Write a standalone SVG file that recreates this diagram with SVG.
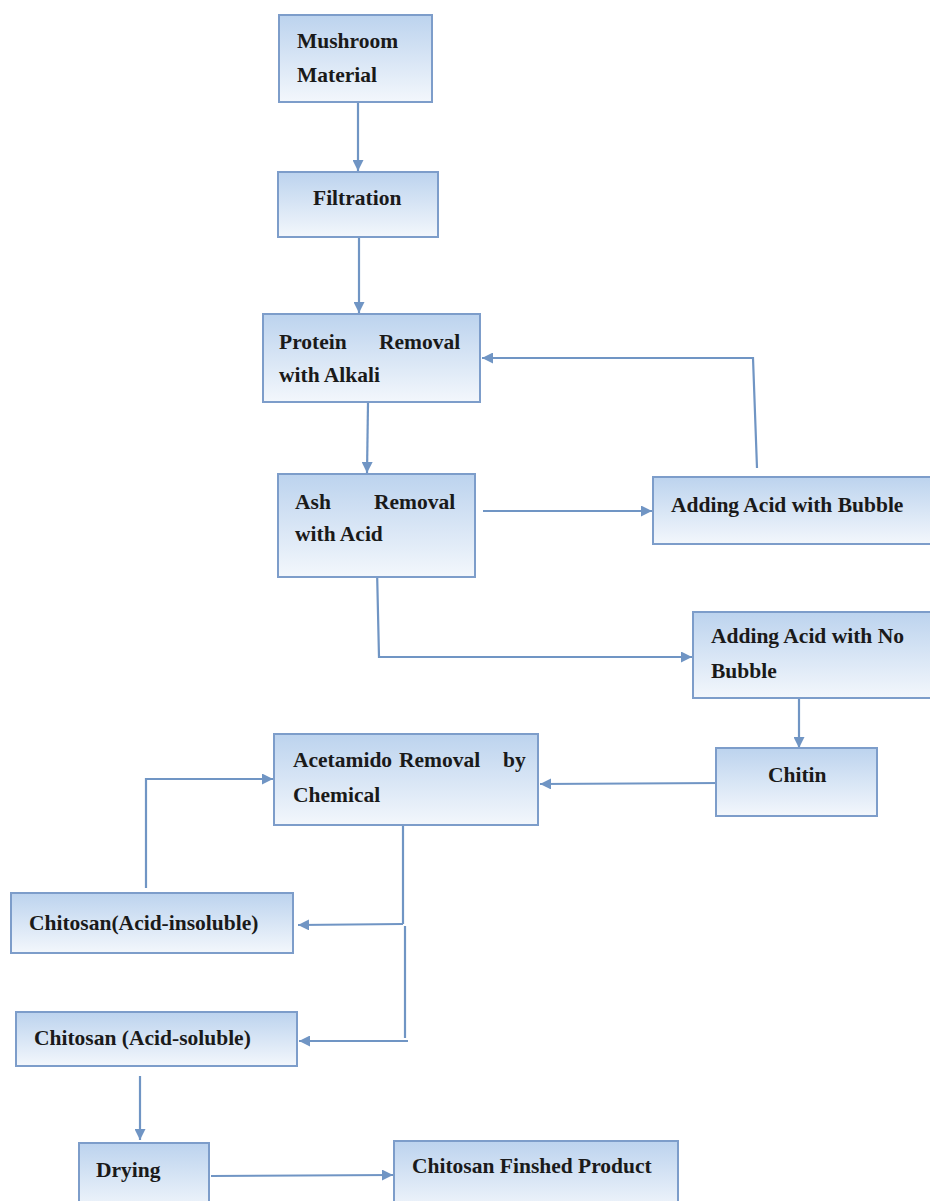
<svg xmlns="http://www.w3.org/2000/svg" width="930" height="1201" viewBox="0 0 930 1201">
<style>
.box{fill:url(#g);stroke:#7d9dca;stroke-width:2}
.t{font-family:"Liberation Serif","Times New Roman",serif;font-weight:bold;font-size:21.5px;fill:#1a1a1a}
.c{fill:none;stroke:#7095c4;stroke-width:2.2}
.a{marker-end:url(#ar)}
</style>
<defs>
<linearGradient id="g" x1="0" y1="0" x2="0" y2="1">
<stop offset="0" stop-color="#bcd3ee"/>
<stop offset="1" stop-color="#f3f7fc"/>
</linearGradient>
<marker id="ar" viewBox="0 0 10 10" refX="10" refY="5" markerWidth="5" markerHeight="5" orient="auto" markerUnits="strokeWidth">
<path d="M0,0 L10,5 L0,10 Z" fill="#7095c4"/>
</marker>
</defs>
<g id="connectors">
<line class="c a" x1="358" y1="103" x2="358" y2="171"/>
<line class="c a" x1="359" y1="238" x2="359" y2="313"/>
<line class="c a" x1="368" y1="403" x2="367" y2="473"/>
<line class="c a" x1="483" y1="511" x2="652" y2="511"/>
<polyline class="c a" points="757,468 753,358 482,358"/>
<polyline class="c a" points="377,569 379,657 692,657"/>
<line class="c a" x1="799" y1="688" x2="799" y2="748"/>
<line class="c a" x1="722" y1="783" x2="540" y2="784"/>
<polyline class="c a" points="146,888 146,779 273,779"/>
<polyline class="c" points="403,822 403,924"/>
<line class="c a" x1="403" y1="924" x2="298" y2="925"/>
<polyline class="c" points="405,926 405,1038"/>
<line class="c a" x1="408" y1="1041" x2="299" y2="1041"/>
<line class="c a" x1="140" y1="1076" x2="140" y2="1140"/>
<line class="c a" x1="211" y1="1176" x2="393" y2="1175"/>
</g>
<g id="n1"><rect class="box" x="279" y="15" width="153" height="87"/>
<text class="t" x="297" y="48">Mushroom</text><text class="t" x="297" y="82">Material</text></g>
<g id="n2"><rect class="box" x="278" y="172" width="160" height="65"/>
<text class="t" x="313" y="205">Filtration</text></g>
<g id="n3"><rect class="box" x="263" y="314" width="217" height="88"/>
<text class="t" x="279" y="349">Protein</text><text class="t" x="379" y="349">Removal</text>
<text class="t" x="279" y="382">with Alkali</text></g>
<g id="n4"><rect class="box" x="278" y="474" width="197" height="103"/>
<text class="t" x="295" y="509">Ash</text><text class="t" x="374" y="509">Removal</text>
<text class="t" x="295" y="541">with Acid</text></g>
<g id="n5"><rect class="box" x="653" y="477" width="285" height="67"/>
<text class="t" x="671" y="512">Adding Acid with Bubble</text></g>
<g id="n6"><rect class="box" x="693" y="612" width="245" height="86"/>
<text class="t" x="711" y="643">Adding Acid with No</text><text class="t" x="711" y="678">Bubble</text></g>
<g id="n7"><rect class="box" x="716" y="748" width="161" height="68"/>
<text class="t" x="768" y="782">Chitin</text></g>
<g id="n8"><rect class="box" x="274" y="734" width="264" height="91"/>
<text class="t" x="293" y="767">Acetamido</text><text class="t" x="399" y="767">Removal</text><text class="t" x="503" y="767">by</text>
<text class="t" x="293" y="802">Chemical</text></g>
<g id="n9"><rect class="box" x="11" y="893" width="282" height="60"/>
<text class="t" x="29" y="930">Chitosan(Acid-insoluble)</text></g>
<g id="n10"><rect class="box" x="16" y="1012" width="281" height="54"/>
<text class="t" x="34" y="1045">Chitosan (Acid-soluble)</text></g>
<g id="n11"><rect class="box" x="79" y="1143" width="130" height="70"/>
<text class="t" x="96" y="1177">Drying</text></g>
<g id="n12"><rect class="box" x="394" y="1141" width="284" height="72"/>
<text class="t" x="412" y="1173">Chitosan Finshed Product</text></g>
</svg>
